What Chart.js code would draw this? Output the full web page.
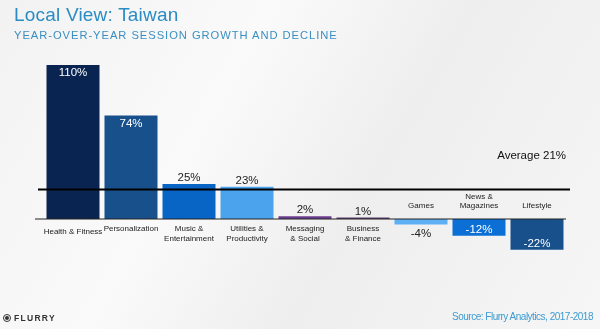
<!DOCTYPE html>
<html>
<head>
<meta charset="utf-8">
<script src="https://cdn.jsdelivr.net/npm/chart.js@4/dist/chart.umd.min.js"></script>
<style>
  html, body { margin: 0; padding: 0; }
  body {
    width: 600px; height: 329px; overflow: hidden; position: relative;
    font-family: "Liberation Sans", Arial, sans-serif;
    background: linear-gradient(120deg, #f2f2f2 0%, #fafafa 35%, #eeeeee 60%, #f6f6f6 100%);
  }
  #wrap { position: absolute; left: 0; top: 0; width: 600px; height: 329px; }
  .title { position: absolute; left: 14px; top: 4px; font-size: 19px; color: #2b8bc3; letter-spacing: 0.2px; }
  .sub { position: absolute; left: 14px; top: 29px; font-size: 11.2px; color: #3a8fc2; letter-spacing: 0.95px; }
  .source { position: absolute; right: 7px; top: 311px; font-size: 10px; color: #3c9bd2; letter-spacing: -0.5px; }
  .logo { position: absolute; left: 3px; top: 313px; font-size: 8.5px; font-weight: bold; color: #333; letter-spacing: 1.3px; display: flex; align-items: center; line-height: 10px; }
  .logo .dot { width: 6px; height: 6px; border: 1.6px solid #333; border-radius: 50%; margin-right: 3px; position: relative; }
  .logo .dot::after { content: ""; position: absolute; left: 1px; top: 1px; width: 4px; height: 4px; background: #333; border-radius: 50%; }
</style>
</head>
<body>
<div id="wrap"><canvas id="chart" width="600" height="329"></canvas></div>
<div class="title">Local View: Taiwan</div>
<div class="sub">YEAR-OVER-YEAR SESSION GROWTH AND DECLINE</div>
<div class="logo"><span class="dot"></span>FLURRY</div>
<div class="source">Source: Flurry Analytics, 2017-2018</div>
<script>
// categories, growth values (%) and bar colours
const categories = [
  ["Health & Fitness"],
  ["Personalization"],
  ["Music &", "Entertainment"],
  ["Utilities &", "Productivity"],
  ["Messaging", "& Social"],
  ["Business", "& Finance"],
  ["Games"],
  ["News &", "Magazines"],
  ["Lifestyle"],
];
const growth = [110, 74, 25, 23, 2, 1, -4, -12, -22];
const barColors = ["#0a2452", "#18508c", "#0865c6", "#4ba3ee", "#6b3c8e", "#5a3d6f", "#5eb0f5", "#0b6fd6", "#18508c"];
const average = 21;

const labelFont = '8px "Liberation Sans", Arial, sans-serif';
const valueFont = '11.5px "Liberation Sans", Arial, sans-serif';

// baseline, average line and all the text around the bars
const annotate = {
  id: "annotate",
  afterDatasetsDraw(chart) {
    const ctx = chart.ctx;
    const y = chart.scales.y;
    const meta = chart.getDatasetMeta(0);
    const zero = y.getPixelForValue(0);
    const avg = y.getPixelForValue(average);

    ctx.save();
    ctx.strokeStyle = "#222";
    ctx.lineWidth = 1.2;
    ctx.beginPath();
    ctx.moveTo(35, zero);
    ctx.lineTo(566, zero);
    ctx.stroke();

    ctx.strokeStyle = "#000";
    ctx.lineWidth = 2;
    ctx.beginPath();
    ctx.moveTo(38, avg);
    ctx.lineTo(570, avg);
    ctx.stroke();

    ctx.fillStyle = "#111";
    ctx.font = '11.5px "Liberation Sans", Arial, sans-serif';
    ctx.textAlign = "right";
    ctx.textBaseline = "middle";
    ctx.fillText("Average " + average + "%", 566, 156);

    ctx.textAlign = "center";
    meta.data.forEach((bar, i) => {
      const v = growth[i];
      const x = bar.x;
      const top = y.getPixelForValue(v);
      const lines = categories[i];

      // category names sit on the opposite side of the bar
      ctx.font = labelFont;
      ctx.fillStyle = "#222";
      if (v >= 0) {
        const start = lines.length === 1 && i === 0 ? zero + 13 : zero + 10;
        lines.forEach((t, k) => ctx.fillText(t, x, start + k * 9.5));
      } else {
        const end = zero - 13;
        lines.forEach((t, k) => ctx.fillText(t, x, end - (lines.length - 1 - k) * 9.5));
      }

      // value labels
      ctx.font = valueFont;
      const text = v + "%";
      if (v > 50) {
        ctx.fillStyle = "#fff";
        ctx.fillText(text, x, top + 8);
      } else if (v >= 0) {
        ctx.fillStyle = "#222";
        ctx.fillText(text, x, top - 6);
      } else if (v < -10) {
        ctx.fillStyle = "#fff";
        ctx.fillText(text, x, top - 6);
      } else {
        ctx.fillStyle = "#222";
        ctx.fillText(text, x, top + 9);
      }
    });
    ctx.restore();
  }
};

new Chart(document.getElementById("chart"), {
  type: "bar",
  data: {
    labels: categories,
    datasets: [{
      data: growth,
      backgroundColor: barColors,
      borderWidth: 0,
      barPercentage: 0.914,
      categoryPercentage: 1,
    }],
  },
  options: {
    responsive: false,
    animation: false,
    layout: { padding: { left: 44, right: 34, top: 58, bottom: 68 } },
    scales: {
      x: { display: false },
      y: { display: false, min: -30, max: 115 },
    },
    plugins: {
      legend: { display: false },
      tooltip: { enabled: false },
    },
  },
  plugins: [annotate],
});
</script>
</body>
</html>
